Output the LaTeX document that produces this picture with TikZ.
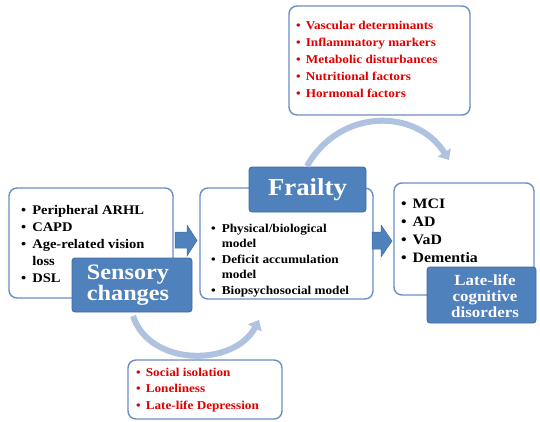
\documentclass[tikz,border=0pt]{standalone}
\usepackage{fontspec}
\setmainfont{Liberation Serif}[FakeStretch=1.1]
\usetikzlibrary{arrows.meta}
\definecolor{boxblue}{HTML}{4F81BD}
\definecolor{edgeblue}{HTML}{3F6A9E}
\definecolor{lineblue}{HTML}{6A8EC4}
\definecolor{arcblue}{HTML}{AFC2E0}
\definecolor{redtxt}{HTML}{E00000}
\tikzset{
  whitebox/.style={draw=lineblue, line width=1.4pt, rounded corners=8pt, fill=white},
  titlebox/.style={draw=edgeblue, line width=0.8pt, fill=boxblue, rounded corners=3pt},
  titletext/.style={text=white, font=\bfseries, align=center, inner sep=0pt},
  listtext/.style={anchor=north west, inner sep=0pt, font=\bfseries, align=left},
  blockarrow/.style={fill=boxblue, draw=edgeblue, line width=0.5pt},
  arcline/.style={draw=arcblue, line width=6pt, -{Triangle[length=9pt,width=15pt]}}
}
\begin{document}
\begin{tikzpicture}[x=1pt,y=-1pt]
\useasboundingbox (0,0) rectangle (540,421);
% white boxes
\draw[whitebox] (289,6) rectangle (470,115);
\draw[whitebox] (9,188) rectangle (173,298);
\draw[whitebox] (200,188) rectangle (373,299);
\draw[whitebox] (394,183) rectangle (534,295);
\draw[whitebox] (128,360) rectangle (282,419);
% lists
\node[listtext, text=redtxt] (toplist) at (296,17) {\fontsize{12}{17}\selectfont
\begin{tabular}{@{}l@{\hspace{5pt}}l@{}}
\textbullet & Vascular determinants\\
\textbullet & Inflammatory markers\\
\textbullet & Metabolic disturbances\\
\textbullet & Nutritional factors\\
\textbullet & Hormonal factors
\end{tabular}};
\node[listtext] (leftlist) at (21,202) {\fontsize{13.2}{17}\selectfont
\begin{tabular}{@{}l@{\hspace{6pt}}l@{}}
\textbullet & Peripheral ARHL\\
\textbullet & CAPD\\
\textbullet & Age-related vision\\
 & loss\\
\textbullet & DSL
\end{tabular}};
\node[listtext] (midlist) at (211,221) {\fontsize{12}{15.5}\selectfont
\begin{tabular}{@{}l@{\hspace{6pt}}l@{}}
\textbullet & Physical/biological\\
 & model\\
\textbullet & Deficit accumulation\\
 & model\\
\textbullet & Biopsychosocial model
\end{tabular}};
\node[listtext] (rightlist) at (401,195.5) {\fontsize{14.4}{18}\selectfont
\begin{tabular}{@{}l@{\hspace{6pt}}l@{}}
\textbullet & MCI\\
\textbullet & AD\\
\textbullet & VaD\\
\textbullet & Dementia
\end{tabular}};
\node[listtext, text=redtxt] (botlist) at (136,364.5) {\fontsize{12}{16.5}\selectfont
\begin{tabular}{@{}l@{\hspace{5pt}}l@{}}
\textbullet & Social isolation\\
\textbullet & Loneliness\\
\textbullet & Late-life Depression
\end{tabular}};
% title boxes
\draw[titlebox] (72,258) rectangle (192,312);
\node[titletext, font=\bfseries\fontsize{22}{21}\selectfont] (sensory) at (128,285) {Sensory\\changes};
\draw[titlebox] (249,167) rectangle (366,212);
\node[titletext, font=\bfseries\fontsize{24.4}{25}\selectfont] (frailty) at (307.5,189.5) {Frailty};
\draw[titlebox] (427,267) rectangle (536,323);
\node[titletext, font=\bfseries\fontsize{15.4}{16}\selectfont] (cog) at (485,296) {Late-life\\cognitive\\disorders};
% block arrows
\draw[blockarrow] (175,232) -- (187,232) -- (187,225) -- (197,240.5) -- (187,256) -- (187,248) -- (175,248) -- cycle;
\draw[blockarrow] (372,232) -- (381,232) -- (381,225) -- (392,241) -- (381,257) -- (381,249) -- (372,249) -- cycle;
% arcs
\coordinate (ta) at (307,166);
\coordinate (tb) at (449,160);
\coordinate (ba) at (133,316);
\coordinate (bb) at (259,320);
\draw[arcline] (ta) .. controls (340,108) and (416,108) .. (tb);
\draw[arcline] (ba) .. controls (150,367) and (234,367) .. (bb);
\end{tikzpicture}
\end{document}
